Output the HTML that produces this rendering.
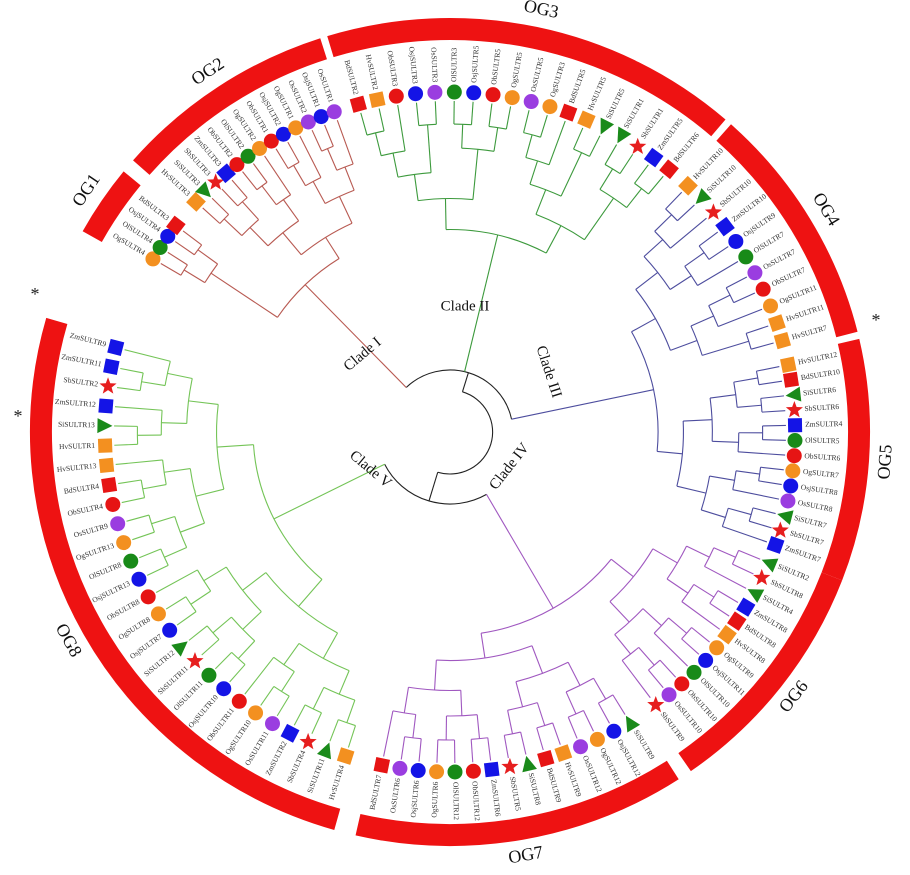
<!DOCTYPE html>
<html><head><meta charset="utf-8"><style>
html,body{margin:0;padding:0;background:#fff;}
svg{display:block;font-family:"Liberation Serif",serif;}
</style></head><body>
<svg id="chart" width="910" height="875" viewBox="0 0 910 875"></svg>
<script>
const ogNames=["OG1","OG2","OG3","OG4","OG5","OG6","OG7","OG8"];
const ogStart=[-61,-49,-17,42,77,111,147,196];
const ogEnd=[-51,-18,41,76,111,145,193,286];
const ogLeaves=[
["Og4","Ol4","Osj4","Bd3"],
["Hv3","Si3","Sb3","Zm3","Ob2","Ol2","Og2","Ob1","Osj2","Og1","Os2","Osj1","Os1"],
["Bd2","Hv2","Ob3","Osj3","Os3","Ol3","Osj5","Ob5","Og5","Os5","Og3","Bd5","Hv5","Si5","Si1","Sb1","Zm5","Bd6"],
["Hv10","Si10","Sb10","Zm10","Osj9","Ol7","Os7","Ob7","Og11","Hv11","Hv7"],
["Hv12","Bd10","Si6","Sb6","Zm4","Ol5","Ob6","Og7","Osj8","Os8","Si7","Sb7","Zm7"],
["Si2","Sb8","Si4","Zm8","Bd8","Hv8","Og9","Osj11","Ol10","Ob10","Os10","Sb9"],
["Si9","Osj12","Og12","Os12","Hv9","Bd9","Si8","Sb5","Zm6","Ob12","Ol12","Og6","Osj6","Os6","Bd7"],
["Hv4","Si11","Sb4","Zm2","Os11","Og10","Ob11","Osj10","Ol11","Sb11","Si12","Osj7","Og8","Ob8","Osj13","Ol8","Og13","Os9","Ob4","Bd4","Hv13","Hv1","Si13","Zm12","Sb2","Zm11","Zm9"]
];
const cladeNames=["Clade I","Clade II","Clade III","Clade IV","Clade V"];
const cladeOGs=[[0,1],[2],[3,4],[5,6],[7]];
const cladeColors=["#b85a52","#3d9a3d","#4d4d9e","#a058c0","#74c457"];

const svg=document.getElementById('chart');
const NS="http://www.w3.org/2000/svg";
const cx=450,cy=432,RL=331,RM=340,RT=350,RR=403;
function P(r,a){const t=a*Math.PI/180;return [cx+r*Math.sin(t)*1.015,cy-r*Math.cos(t)];}
function mk(tag,attrs,parent){const e=document.createElementNS(NS,tag);for(const k in attrs)e.setAttribute(k,attrs[k]);(parent||svg).appendChild(e);return e;}
const gTree=mk('g',{});
const gMark=mk('g',{});
function arc(r,a1,a2,col,parent){if(Math.abs(a2-a1)<0.01)return;const p1=P(r,a1),p2=P(r,a2);
const e=mk('path',{d:`M${p1[0]},${p1[1]} A${r*1.015},${r} 0 ${a2-a1>180?1:0} 1 ${p2[0]},${p2[1]}`,fill:'none',stroke:col,'stroke-width':1.1},parent||gTree);
}
function rad(r1,r2,a,col){const p1=P(r1,a),p2=P(r2,a);
const e=mk('line',{x1:p1[0],y1:p1[1],x2:p2[0],y2:p2[1],stroke:col,'stroke-width':1.1},gTree);
}
function join(kids,r,col){const amin=Math.min(...kids.map(k=>k.a)),amax=Math.max(...kids.map(k=>k.a));
arc(r,amin,amax,col);kids.forEach(k=>rad(r,k.r,k.a,col));return {a:(amin+amax)/2,r:r};}
function build(leaves,col){if(leaves.length===1)return leaves[0];
const h=Math.ceil(leaves.length/2);const L=build(leaves.slice(0,h),col),R=build(leaves.slice(h),col);
const r=Math.min(L.r,R.r)-22-leaves.length*0.5;return join([L,R],r,col);}
const spStyle={Zm:['sq','#1414e6'],Sb:['star','#e61e1e'],Si:['tri','#1a8a1a'],Hv:['sq','#f39020'],Bd:['sq','#e61414'],Os:['c','#9a3de0'],Osj:['c','#1414e6'],Og:['c','#f39020'],Ob:['c','#e61414'],Ol:['c','#188a18']};
function marker(a,sp){const [sh,col]=spStyle[sp];const [x,y]=P(RM,a);let e;
if(sh==='c')e=mk('circle',{cx:x,cy:y,r:7.5,fill:col},gMark);
else if(sh==='sq')e=mk('rect',{x:-7,y:-7,width:14,height:14,fill:col,transform:`translate(${x},${y}) rotate(${a})`},gMark);
else if(sh==='tri')e=mk('polygon',{points:"0,-7.5 7.5,7.5 -7.5,7.5",fill:col,transform:`translate(${x},${y}) rotate(${a+180})`},gMark);
else{let pts=[];for(let i=0;i<10;i++){const rr=i%2?3.8:9,t=i*36*Math.PI/180;pts.push((rr*Math.sin(t)).toFixed(2)+','+(-rr*Math.cos(t)).toFixed(2));}
e=mk('polygon',{points:pts.join(' '),fill:col,transform:`translate(${x},${y})`},gMark);}
}
function label(a,txt){const [x,y]=P(RT,a);const na=((a%360)+360)%360;const left=na>180;
const e=mk('text',{x:0,y:0,'font-size':7.5,fill:'#333','dominant-baseline':'middle','text-anchor':left?'end':'start',transform:`translate(${x},${y}) rotate(${left?a+90:a-90})`});
e.textContent=txt;}
const ogRoots=[];
ogLeaves.forEach((lv,i)=>{const ci=cladeOGs.findIndex(c=>c.includes(i));const col=cladeColors[ci];
const n=lv.length,s=ogStart[i]+1.6,e=ogEnd[i]-1.6;
const leaves=lv.map((code,j)=>{const a=n>1?s+(e-s)*j/(n-1):(s+e)/2;const sp=code.match(/^[A-Za-z]+/)[0];
marker(a,sp);label(a,sp+'SULTR'+code.slice(sp.length));return {a:a,r:RL};});
ogRoots.push(build(leaves,col));});
const cladeNodes=cladeOGs.map((ogs,ci)=>{const col=cladeColors[ci];
if(ogs.length===1)return ogRoots[ogs[0]];
const r=Math.min(...ogs.map(o=>ogRoots[o].r))-25;return join(ogs.map(o=>ogRoots[o]),r,col);});
function joinStem(kids,r,cols){const amin=Math.min(...kids.map(k=>k.a)),amax=Math.max(...kids.map(k=>k.a));
arc(r,amin,amax,'#222');kids.forEach((k,i)=>rad(r,k.r,k.a,cols[i]));return {a:(amin+amax)/2,r:r};}
const nX=joinStem([cladeNodes[0],cladeNodes[1],cladeNodes[2]],62,[cladeColors[0],cladeColors[1],cladeColors[2]]);
const nY=joinStem([cladeNodes[3],cladeNodes[4]],72,[cladeColors[3],cladeColors[4]]);
joinStem([nX,nY],42,['#222','#222']);
ogNames.forEach((nm,i)=>{const p1=P(RR,ogStart[i]),p2=P(RR,ogEnd[i]);
const e=mk('path',{d:`M${p1[0]},${p1[1]} A${RR*1.015},${RR} 0 0 1 ${p2[0]},${p2[1]}`,fill:'none',stroke:'#ee1212','stroke-width':22});

const am=(ogStart[i]+ogEnd[i])/2;const [x,y]=P(431,am);const na=((am%360)+360)%360;
let rot=(na>90&&na<270)?am+180:am;
const t=mk('text',{x:0,y:0,'font-size':18,fill:'#111','text-anchor':'middle','dominant-baseline':'middle',transform:`translate(${x},${y}) rotate(${rot})`});
t.textContent=nm;});
const cladeLabelPos=[[363,355,-40],[465,307,0],[548,372,72],[510,467,-52],[370,470,40]];
cladeNames.forEach((nm,i)=>{const [x,y,r]=cladeLabelPos[i];
const t=mk('text',{x:0,y:0,'font-size':15,fill:'#111','text-anchor':'middle','dominant-baseline':'middle',transform:`translate(${x},${y}) rotate(${r})`});
t.textContent=nm;});
[[35,300],[18,422],[876,326]].forEach(([x,y])=>{const t=mk('text',{x:x,y:y,'font-size':18,fill:'#222','text-anchor':'middle'});
t.textContent='*';});
</script>
</body></html>
